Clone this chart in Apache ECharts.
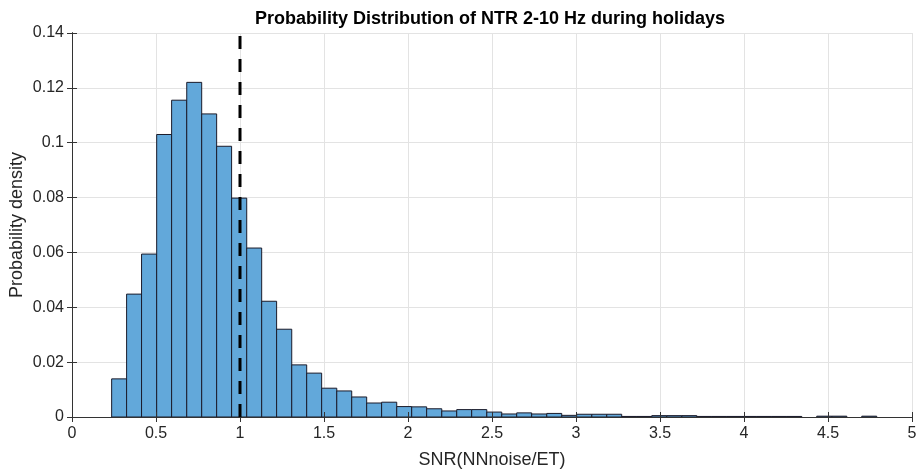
<!DOCTYPE html>
<html><head><meta charset="utf-8">
<script src="https://cdn.jsdelivr.net/npm/echarts@6/dist/echarts.min.js"></script>
<style>html,body{margin:0;padding:0;background:#fff}#c{width:920px;height:471px}</style>
</head><body><div id="c"></div>
<script>
// Histogram bin edges (SNR) — 52 edges for 51 bins
const binEdges = [0.236, 0.325, 0.414, 0.504, 0.593, 0.683, 0.772, 0.861, 0.950, 1.040,
  1.129, 1.218, 1.308, 1.397, 1.486, 1.576, 1.665, 1.754, 1.843, 1.933,
  2.022, 2.111, 2.201, 2.290, 2.379, 2.469, 2.558, 2.647, 2.736, 2.826,
  2.915, 3.004, 3.094, 3.183, 3.272, 3.362, 3.451, 3.540, 3.630, 3.719,
  3.808, 3.897, 3.987, 4.076, 4.165, 4.255, 4.344, 4.433, 4.523, 4.612,
  4.701, 4.790];
// Probability per bin
const density = [0.0139, 0.0448, 0.0594, 0.1030, 0.1155, 0.1220, 0.1105, 0.0987, 0.0798, 0.0616,
  0.0422, 0.0320, 0.0190, 0.0160, 0.0105, 0.0095, 0.0073, 0.0051, 0.0054, 0.0038,
  0.0037, 0.0030, 0.0022, 0.0027, 0.0027, 0.0018, 0.0011, 0.0015, 0.0011, 0.0013,
  0.0006, 0.0010, 0.0010, 0.0010, 0.0002, 0.0002, 0.0005, 0.0005, 0.0005, 0.0002,
  0.0002, 0.0002, 0.0002, 0.0002, 0.0002, 0.0002, 0, 0.0003, 0.0003, 0,
  0.0003];
const thresholdX = 1;
const xRange = [0, 5, 0.5];
const yRange = [0, 0.14, 0.02];
const titleText = 'Probability Distribution of NTR 2-10 Hz during holidays';
const xName = 'SNR(NNnoise/ET)';
const yName = 'Probability density';

const histData = density.map((d, i) => [binEdges[i], binEdges[i + 1], d]);

const font = 'Liberation Sans, Arial, sans-serif';
const axisColor = '#333333';
const gridColor = '#e3e3e3';

function tickAxis(extra) {
  return Object.assign({
    type: 'value', z: 5,
    axisLine: { show: true, lineStyle: { color: axisColor, width: 1 } },
    axisTick: { show: true, inside: true, length: 5, lineStyle: { color: axisColor } },
    axisLabel: { show: false }, splitLine: { show: false }
  }, extra);
}

const chart = echarts.init(document.getElementById('c'), null, { renderer: 'canvas' });
chart.setOption({
  animation: false,
  backgroundColor: '#fff',
  title: {
    text: titleText, left: 485, top: 5, textAlign: 'center',
    textStyle: { fontFamily: font, fontWeight: 'bold', fontSize: 18, color: '#000' }
  },
  grid: { left: 72, right: 8, top: 33, bottom: 54, containLabel: false, outerBoundsMode: 'none' },
  xAxis: [
    {
      type: 'value', min: xRange[0], max: xRange[1], interval: xRange[2], position: 'bottom',
      name: xName, nameLocation: 'middle', nameGap: 34,
      nameTextStyle: { fontFamily: font, fontSize: 18, color: '#262626' },
      axisLine: { show: true, lineStyle: { color: axisColor } },
      axisTick: { show: false },
      axisLabel: { fontFamily: font, fontSize: 16, color: '#262626', margin: 9 },
      splitLine: { show: true, lineStyle: { color: gridColor, width: 1 } }
    },
    tickAxis({ min: xRange[0], max: xRange[1], interval: xRange[2], position: 'bottom' }),
    tickAxis({ min: xRange[0], max: xRange[1], interval: xRange[2], position: 'top' })
  ],
  yAxis: [
    {
      type: 'value', min: yRange[0], max: yRange[1], interval: yRange[2], position: 'left',
      name: yName, nameLocation: 'middle', nameGap: 46, nameMoveOverlap: false,
      nameTextStyle: { fontFamily: font, fontSize: 18, color: '#262626' },
      axisLine: { show: true, lineStyle: { color: axisColor } },
      axisTick: { show: false },
      axisLabel: { fontFamily: font, fontSize: 16, color: '#262626', margin: 8 },
      splitLine: { show: true, lineStyle: { color: gridColor, width: 1 } }
    },
    tickAxis({ min: yRange[0], max: yRange[1], interval: yRange[2], position: 'left' }),
    tickAxis({ min: yRange[0], max: yRange[1], interval: yRange[2], position: 'right' })
  ],
  series: [
    {
      type: 'custom', xAxisIndex: 0, yAxisIndex: 0, z: 2,
      data: histData,
      encode: { x: [0, 1], y: 2 },
      renderItem: function (params, api) {
        const h = api.value(2);
        if (!h) return null;
        const p0 = api.coord([api.value(0), h]);
        const p1 = api.coord([api.value(1), 0]);
        return {
          type: 'rect',
          shape: { x: p0[0], y: p0[1], width: p1[0] - p0[0], height: p1[1] - p0[1] },
          style: { fill: '#62a8da', stroke: '#1b1b2a', lineWidth: 1 }
        };
      }
    },
    {
      type: 'line', xAxisIndex: 0, yAxisIndex: 0, z: 6,
      data: [[thresholdX, yRange[0]], [thresholdX, yRange[1]]],
      symbol: 'none',
      lineStyle: { color: '#000', width: 3, type: [13, 10] }
    }
  ]
});
</script></body></html>
